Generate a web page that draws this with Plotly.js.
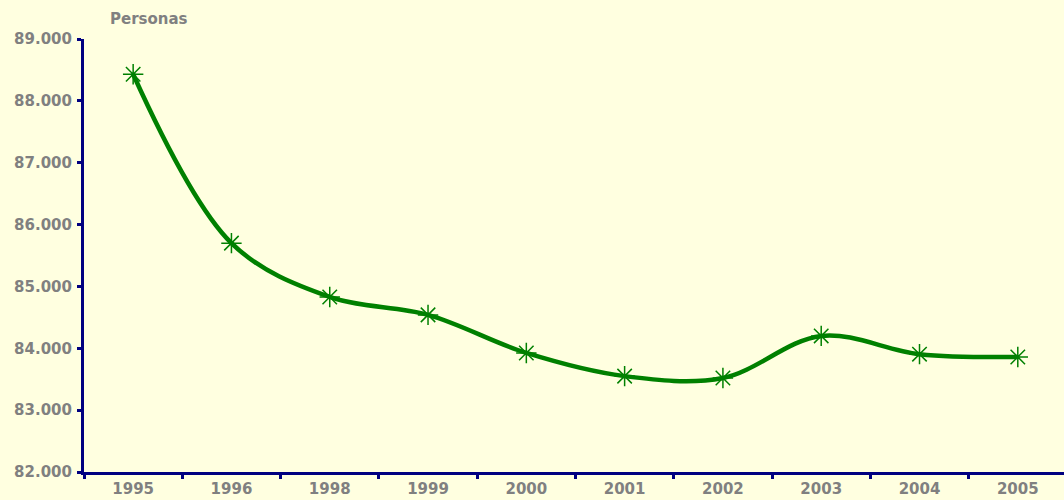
<!DOCTYPE html>
<html>
<head>
<meta charset="utf-8">
<script src="https://cdn.plot.ly/plotly-3.0.1.min.js"></script>
<style>
html,body{margin:0;padding:0;background:#FFFFE0;}
#chart{width:1064px;height:500px;}
</style>
</head>
<body>
<div id="chart"></div>
<script>
const years = ['1995','1996','1998','1999','2000','2001','2002','2003','2004','2005'];
const personas = [88430, 85700, 84830, 84540, 83925, 83550, 83520, 84200, 83905, 83860];
const yTickValues = [82000, 83000, 84000, 85000, 86000, 87000, 88000, 89000];
const yUnitLabel = 'Personas';

const gray = '#808080';
const navy = '#000080';
const green = '#008000';
const fontFam = '"DejaVu Sans", Verdana, sans-serif';

const trace = {
  type: 'scatter',
  mode: 'lines+markers',
  x: years,
  y: personas,
  line: {color: green, width: 4.5, shape: 'spline', smoothing: 1},
  marker: {symbol: 'asterisk-open', size: 17, color: green, line: {color: green, width: 1.5}},
  hoverinfo: 'x+y',
  cliponaxis: false
};

const layout = {
  width: 1064,
  height: 500,
  paper_bgcolor: '#FFFFE0',
  plot_bgcolor: '#FFFFE0',
  margin: {l: 84, r: 0, t: 39, b: 28, pad: 0},
  separators: ',.',
  showlegend: false,
  font: {family: fontFam, color: gray, size: 15, weight: 'bold'},
  xaxis: {
    type: 'category',
    range: [-0.5, 9.47],
    showgrid: false,
    zeroline: false,
    showline: true,
    linecolor: navy,
    linewidth: 3,
    ticks: 'outside',
    tickson: 'boundaries',
    ticklen: 4,
    tickwidth: 3,
    tickcolor: navy,
    ticklabelstandoff: 1,
    tickfont: {family: fontFam, color: gray, size: 15, weight: 'bold'},
    fixedrange: true
  },
  yaxis: {
    range: [82000, 89000],
    tickvals: yTickValues,
    tickformat: ',d',
    showgrid: false,
    zeroline: false,
    showline: true,
    linecolor: navy,
    linewidth: 3,
    ticks: 'outside',
    ticklen: 4,
    tickwidth: 3,
    tickcolor: navy,
    ticklabelstandoff: 2,
    tickfont: {family: fontFam, color: gray, size: 15, weight: 'bold'},
    fixedrange: true
  },
  annotations: [{
    text: yUnitLabel,
    xref: 'paper', yref: 'paper',
    x: 0.066, y: 1.0,
    xanchor: 'center', yanchor: 'bottom',
    yshift: 9,
    showarrow: false,
    font: {family: fontFam, color: gray, size: 15, weight: 'bold'}
  }]
};

Plotly.newPlot('chart', [trace], layout, {displayModeBar: false, staticPlot: true});
</script>
</body>
</html>
